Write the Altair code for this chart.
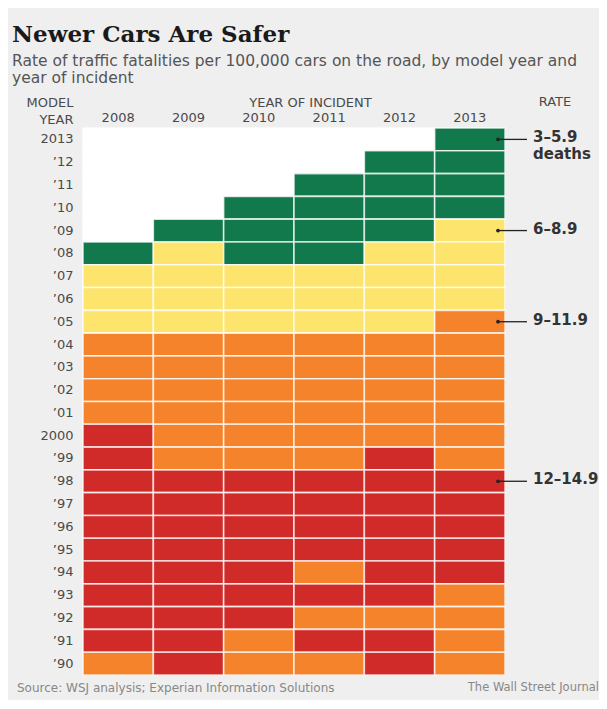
import altair as alt
import pandas as pd

# ---- data ----
incident_years = ["2008", "2009", "2010", "2011", "2012", "2013"]
model_years = [str(y) for y in range(2013, 1989, -1)]  # 2013 (top) ... 1990 (bottom)

# rate class per model year (2013 -> 1990) for each year of incident
# G = 3-5.9, Y = 6-8.9, O = 9-11.9, R = 12-14.9, "" = no data
col_2008 = ["", "", "", "", "", "G", "Y", "Y", "Y", "O", "O", "O", "O", "R", "R", "R", "R", "R", "R", "R", "R", "R", "R", "O"]
col_2009 = ["", "", "", "", "G", "Y", "Y", "Y", "Y", "O", "O", "O", "O", "O", "O", "R", "R", "R", "R", "R", "R", "R", "R", "R"]
col_2010 = ["", "", "", "G", "G", "G", "Y", "Y", "Y", "O", "O", "O", "O", "O", "O", "R", "R", "R", "R", "R", "R", "R", "O", "O"]
col_2011 = ["", "", "G", "G", "G", "G", "Y", "Y", "Y", "O", "O", "O", "O", "O", "O", "R", "R", "R", "R", "O", "R", "O", "R", "O"]
col_2012 = ["", "G", "G", "G", "G", "Y", "Y", "Y", "Y", "O", "O", "O", "O", "O", "R", "R", "R", "R", "R", "R", "R", "O", "R", "R"]
col_2013 = ["G", "G", "G", "G", "Y", "Y", "Y", "Y", "O", "O", "O", "O", "O", "O", "O", "R", "R", "R", "R", "R", "O", "O", "O", "O"]

rate_codes = ["G", "Y", "O", "R", ""]
rate_labels = ["3–5.9", "6–8.9", "9–11.9", "12–14.9", "none"]
rate_colors = ["#11794b", "#fde46c", "#f5832b", "#d12b29", "#ffffff"]

# legend annotations: label and the model-year row it points at
legend_labels = ["3–5.9", "6–8.9", "9–11.9", "12–14.9"]
legend_rows = ["2013", "2009", "2005", "1998"]

title_text = "Newer Cars Are Safer"
subtitle_lines = ["Rate of traffic fatalities per 100,000 cars on the road, by model year and",
                  "year of incident"]
source_text = "Source: WSJ analysis; Experian Information Solutions"
credit_text = "The Wall Street Journal"

# ---- build table ----
columns = [col_2008, col_2009, col_2010, col_2011, col_2012, col_2013]
code_to_label = dict(zip(rate_codes, rate_labels))
rows = []
for iy, col in zip(incident_years, columns):
    for my, code in zip(model_years, col):
        rows.append({"incident": iy, "model": my, "rate": code_to_label[code]})
cells = pd.DataFrame(rows)

legend_df = pd.DataFrame({"label": legend_labels, "model": legend_rows})

W, H = 422, 547
FONT = "DejaVu Sans"

x_enc = alt.X("incident:O", sort=incident_years,
              scale=alt.Scale(domain=incident_years, paddingInner=0, paddingOuter=0),
              axis=alt.Axis(orient="top", title="YEAR OF INCIDENT", domain=False, ticks=False,
                            labelAngle=0, labelFont=FONT, labelFontSize=13, labelColor="#4a4a4a",
                            labelPadding=4, titleFont=FONT, titleFontSize=13,
                            titleFontWeight="normal", titleColor="#4a4a4a",
                            titleX=227, titleY=-22, titleAlign="center",
                            titleBaseline="alphabetic"))
y_enc = alt.Y("model:O", sort=model_years,
              scale=alt.Scale(domain=model_years, paddingInner=0, paddingOuter=0),
              axis=alt.Axis(title=["MODEL", "YEAR"], domain=False, ticks=False,
                            labelFont=FONT, labelFontSize=13, labelColor="#4a4a4a", labelPadding=10,
                            labelExpr="(datum.value == '2013' || datum.value == '2000') ? datum.value : '\u2019' + substring(datum.value, 2, 4)",
                            titleAngle=0, titleX=-10, titleY=-22, titleAlign="right",
                            titleBaseline="alphabetic", titleFont=FONT, titleFontSize=13,
                            titleFontWeight="normal", titleColor="#4a4a4a", titleLineHeight=17))

heat = alt.Chart(cells).mark_rect(stroke="white", strokeWidth=1.6, strokeOpacity=0.75).encode(
    x=x_enc, y=y_enc,
    color=alt.Color("rate:N", scale=alt.Scale(domain=rate_labels, range=rate_colors), legend=None),
)

leg_base = alt.Chart(legend_df)
leg_lines = leg_base.mark_rule(color="#222", strokeWidth=1.3).encode(
    y=alt.Y("model:O", sort=model_years), x=alt.value(415), x2=alt.value(444))
leg_dots = leg_base.mark_point(filled=True, color="#222", size=14, opacity=1).encode(
    y=alt.Y("model:O", sort=model_years), x=alt.value(415))
leg_text = leg_base.mark_text(align="left", baseline="middle", font=FONT, fontSize=15,
                              fontWeight="bold", color="#333", dy=-2).encode(
    y=alt.Y("model:O", sort=model_years), x=alt.value(450), text="label:N")
leg_deaths = alt.Chart(pd.DataFrame({"t": ["deaths"], "model": ["2013"]})).mark_text(
    align="left", baseline="middle", font=FONT, fontSize=15, fontWeight="bold",
    color="#333", dy=15).encode(y=alt.Y("model:O", sort=model_years), x=alt.value(450), text="t:N")

notes = pd.DataFrame({"t": ["RATE"]})
rate_head = alt.Chart(notes).mark_text(align="center", baseline="alphabetic", font=FONT,
                                       fontSize=13, color="#4a4a4a").encode(
    x=alt.value(472), y=alt.value(-22), text="t:N")

foot = pd.DataFrame({"t": [source_text]})
source = alt.Chart(foot).mark_text(align="left", baseline="middle", font=FONT, fontSize=12,
                                   color="#888").encode(x=alt.value(-66), y=alt.value(560), text="t:N")
credit = alt.Chart(pd.DataFrame({"t": [credit_text]})).mark_text(
    align="right", baseline="middle", font=FONT, fontSize=11.5, color="#888").encode(
    x=alt.value(516), y=alt.value(560), text="t:N")

chart = alt.layer(heat, leg_lines, leg_dots, leg_text, leg_deaths, rate_head, source, credit).properties(
    width=W, height=H,
    title=alt.TitleParams(text=title_text, subtitle=subtitle_lines, anchor="start", frame="group",
                          dx=-71, offset=10, font="DejaVu Serif", fontSize=23, fontWeight="bold",
                          color="#1a1a1a", subtitleFont=FONT, subtitleFontSize=15.5,
                          subtitleColor="#555", subtitlePadding=7, subtitleLineHeight=17),
    autosize=alt.AutoSizeParams(type="none"),
    padding={"left": 75, "top": 120, "right": 94, "bottom": 25},
).configure_view(stroke=None).configure(background="#efefef")

chart.save("out.html", embed_options={"renderer": "svg", "actions": False})
